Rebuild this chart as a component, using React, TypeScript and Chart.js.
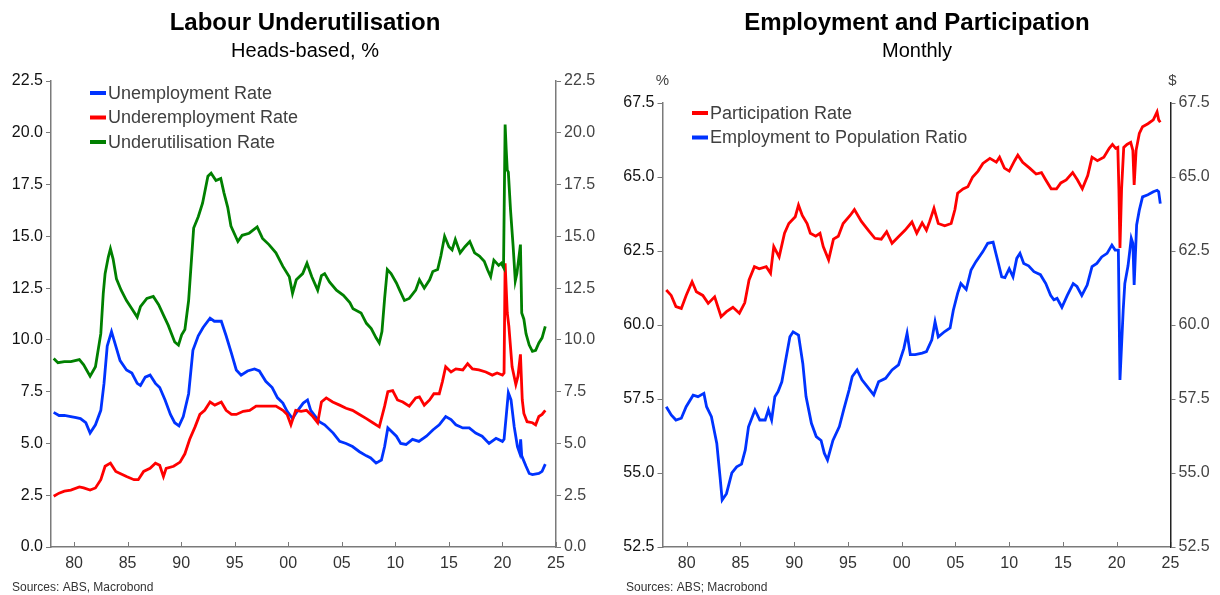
import React, { useEffect, useRef } from "react";
import { Chart, registerables } from "chart.js";

Chart.register(...registerables);

const FONT = "'Liberation Sans', Arial, Helvetica, sans-serif";

// ---------- Left chart: Labour Underutilisation ----------
const unempDates = [1978.1,1978.6,1979.1,1979.7,1980.2,1980.6,1981.1,1981.5,1982.0,1982.5,1982.8,1983.1,1983.5,1983.9,1984.3,1984.9,1985.4,1985.9,1986.2,1986.65,1987.1,1987.6,1988.0,1988.5,1989.0,1989.4,1989.8,1990.2,1990.7,1991.1,1991.6,1992.05,1992.7,1993.1,1993.75,1994.2,1994.7,1995.15,1995.6,1996.2,1996.85,1997.3,1997.9,1998.5,1999.0,1999.5,1999.9,2000.4,2000.9,2001.4,2001.8,2002.1,2002.9,2003.4,2004.2,2004.8,2005.4,2006.0,2006.65,2007.3,2007.7,2008.2,2008.7,2009.0,2009.3,2009.6,2010.1,2010.5,2011.0,2011.6,2012.2,2012.9,2013.5,2014.1,2014.7,2015.2,2015.65,2016.3,2016.9,2017.5,2018.1,2018.75,2019.4,2020.0,2020.15,2020.4,2020.55,2020.8,2021.1,2021.4,2021.6,2021.7,2021.8,2022.2,2022.5,2022.8,2023.4,2023.7,2024.0];
const unempValues = [6.5,6.35,6.35,6.3,6.25,6.2,6.0,5.5,5.9,6.6,7.9,9.7,10.4,9.7,9.0,8.55,8.4,7.9,7.8,8.2,8.3,7.9,7.7,7.1,6.4,6.0,5.85,6.3,7.4,9.5,10.2,10.6,11.05,10.9,10.9,10.2,9.35,8.55,8.3,8.5,8.6,8.5,8.0,7.7,7.2,6.95,6.55,6.2,6.6,6.95,7.1,6.6,6.05,5.9,5.5,5.1,5.0,4.85,4.6,4.4,4.3,4.05,4.2,4.85,5.75,5.6,5.35,5.0,4.95,5.2,5.1,5.35,5.65,5.9,6.3,6.15,5.9,5.75,5.75,5.5,5.35,5.0,5.25,5.1,5.2,6.6,7.45,7.1,5.8,4.85,4.55,5.2,4.4,3.9,3.55,3.5,3.55,3.65,4.0];

const underempDates = [1978.1,1978.6,1979.1,1979.7,1980.5,1980.9,1981.5,1982.0,1982.5,1982.9,1983.4,1983.9,1984.3,1984.9,1985.6,1986.0,1986.5,1987.1,1987.6,1988.0,1988.35,1988.6,1989.3,1989.9,1990.35,1990.8,1991.3,1991.75,1992.2,1992.7,1993.15,1993.75,1994.2,1994.7,1995.15,1995.8,1996.4,1997.0,1997.6,1998.25,1998.85,1999.5,1999.9,2000.25,2000.7,2001.2,2001.7,2002.3,2002.75,2003.1,2003.55,2004.15,2004.8,2005.4,2006.0,2006.65,2007.3,2007.9,2008.5,2009.0,2009.3,2009.75,2010.2,2010.7,2011.3,2011.9,2012.25,2012.7,2013.2,2013.6,2014.1,2014.4,2014.7,2015.2,2015.65,2016.3,2016.75,2017.2,2017.8,2018.45,2019.05,2019.5,2020.0,2020.15,2020.25,2020.45,2020.6,2020.9,2021.25,2021.45,2021.68,2021.85,2022.0,2022.3,2022.8,2023.1,2023.4,2023.7,2024.0];
const underempValues = [2.45,2.6,2.7,2.75,2.9,2.85,2.75,2.85,3.25,3.9,4.05,3.65,3.55,3.4,3.25,3.25,3.65,3.8,4.05,3.95,3.4,3.8,3.9,4.1,4.5,5.2,5.8,6.4,6.6,7.0,6.85,7.0,6.6,6.4,6.4,6.55,6.6,6.8,6.8,6.8,6.8,6.6,6.4,5.9,6.6,6.55,6.6,6.3,6.0,7.0,7.2,7.0,6.85,6.7,6.6,6.4,6.2,6.0,5.8,6.8,7.5,7.55,7.1,7.0,6.8,7.2,7.25,6.85,7.1,7.4,7.4,8.0,8.7,8.45,8.6,8.55,8.85,8.6,8.55,8.45,8.3,8.4,8.3,8.4,13.7,11.3,10.65,8.7,7.85,8.25,9.3,7.1,6.45,6.05,6.0,5.9,6.3,6.4,6.6];

const underutilDates = [1978.1,1978.5,1979.1,1979.7,1980.5,1980.9,1981.5,1982.0,1982.5,1982.73,1982.9,1983.2,1983.4,1983.65,1983.96,1984.4,1984.9,1985.4,1985.9,1986.2,1986.8,1987.4,1987.9,1988.35,1988.8,1989.1,1989.4,1989.75,1990.05,1990.35,1990.7,1991.17,1991.6,1992.0,1992.5,1992.8,1993.25,1993.7,1994.0,1994.35,1994.65,1995.3,1995.7,1996.35,1997.1,1997.6,1998.2,1998.85,1999.5,2000.1,2000.4,2000.75,2001.35,2001.75,2002.2,2002.75,2003.1,2003.4,2003.85,2004.5,2005.15,2005.75,2006.05,2006.8,2007.3,2007.75,2008.2,2008.5,2008.75,2009.0,2009.25,2009.6,2010.1,2010.4,2010.85,2011.3,2011.9,2012.25,2012.7,2013.2,2013.5,2013.95,2014.25,2014.6,2015.0,2015.3,2015.6,2016.05,2016.5,2016.95,2017.4,2017.85,2018.3,2018.6,2018.9,2019.2,2019.65,2019.9,2020.1,2020.25,2020.35,2020.45,2020.55,2020.75,2021.0,2021.2,2021.35,2021.68,2021.8,2022.0,2022.2,2022.5,2022.8,2023.1,2023.4,2023.7,2024.0];
const underutilValues = [9.1,8.9,8.95,8.95,9.05,8.8,8.25,8.7,10.3,12.25,13.2,14.0,14.4,13.9,12.95,12.4,11.9,11.5,11.1,11.6,12.0,12.1,11.7,11.2,10.7,10.3,9.9,9.75,10.25,10.5,11.9,15.4,15.95,16.6,17.9,18.05,17.7,17.8,17.1,16.4,15.5,14.75,15.05,15.15,15.45,14.9,14.6,14.2,13.55,13.05,12.25,12.9,13.2,13.7,13.05,12.4,13.1,13.2,12.8,12.4,12.15,11.8,11.5,11.3,10.8,10.55,10.1,9.85,10.4,12.0,13.4,13.2,12.75,12.4,11.9,12.0,12.4,12.9,12.5,12.9,13.3,13.4,14.05,15.0,14.5,14.35,14.85,14.2,14.5,14.75,14.2,14.05,13.8,13.4,13.05,13.85,13.6,13.7,13.5,20.4,19.2,18.2,18.1,16.3,14.5,12.85,13.2,14.6,11.3,11.0,10.3,9.75,9.45,9.5,9.85,10.1,10.65];

const leftYTicks = [0, 2.5, 5, 7.5, 10, 12.5, 15, 17.5, 20, 22.5];

// ---------- Right chart: Employment and Participation ----------
const partDates = [1978.1,1978.56,1979.0,1979.5,1979.95,1980.5,1980.9,1981.5,1982.0,1982.6,1983.2,1983.7,1984.3,1984.9,1985.4,1985.8,1986.3,1986.75,1987.4,1987.8,1988.1,1988.6,1989.1,1989.5,1990.1,1990.4,1990.75,1991.2,1991.5,1992.0,1992.4,1992.7,1993.2,1993.65,1994.1,1994.55,1995.2,1995.6,1996.25,1996.9,1997.5,1998.1,1998.6,1999.1,1999.7,2000.3,2000.95,2001.4,2001.9,2002.3,2002.6,2003.0,2003.4,2004.0,2004.6,2004.95,2005.2,2005.7,2006.15,2006.6,2007.1,2007.55,2008.2,2008.8,2009.1,2009.55,2010.0,2010.5,2010.8,2011.25,2011.9,2012.5,2013.0,2013.4,2013.9,2014.4,2014.8,2015.3,2015.9,2016.35,2016.8,2017.3,2017.7,2018.2,2018.8,2019.3,2019.6,2019.9,2020.1,2020.2,2020.3,2020.45,2020.65,2020.95,2021.3,2021.5,2021.62,2021.8,2022.1,2022.4,2022.9,2023.4,2023.75,2023.9,2024.05];
const partValues = [61.18,61.0,60.62,60.56,61.0,61.46,61.12,61.0,60.73,60.95,60.28,60.45,60.6,60.4,60.75,61.52,61.97,61.9,61.97,61.75,62.65,62.3,63.1,63.43,63.66,64.05,63.7,63.43,63.1,63.0,63.1,62.65,62.2,62.9,63.0,63.43,63.7,63.9,63.5,63.2,62.93,62.9,63.15,62.76,62.98,63.2,63.48,63.1,63.45,63.2,63.5,63.94,63.43,63.35,63.43,63.9,64.45,64.6,64.67,65.0,65.2,65.46,65.63,65.5,65.67,65.3,65.2,65.55,65.74,65.5,65.3,65.1,65.15,64.9,64.6,64.6,64.8,64.9,65.15,64.9,64.6,65.05,65.67,65.55,65.67,65.97,66.1,65.97,66.0,64.6,62.6,64.6,66.0,66.1,66.17,65.9,64.73,65.9,66.47,66.7,66.8,66.93,67.2,66.93,66.85];

const eprDates = [1978.1,1978.56,1979.0,1979.5,1979.95,1980.6,1981.05,1981.6,1981.85,1982.3,1982.8,1983.1,1983.3,1983.7,1984.2,1984.65,1985.1,1985.45,1985.75,1986.35,1986.8,1987.3,1987.6,1987.9,1988.2,1988.5,1988.85,1989.15,1989.6,1989.9,1990.4,1990.8,1991.1,1991.6,1992.05,1992.5,1992.8,1993.1,1993.6,1994.2,1994.6,1995.1,1995.4,1995.85,1996.3,1996.8,1997.4,1997.85,1998.5,1999.1,1999.7,2000.2,2000.5,2000.8,2001.25,2001.9,2002.3,2002.8,2003.1,2003.4,2004.0,2004.5,2004.8,2005.2,2005.5,2006.0,2006.45,2006.9,2007.55,2008.0,2008.5,2008.8,2009.3,2009.6,2010.0,2010.35,2010.7,2011.0,2011.35,2011.8,2012.3,2012.9,2013.4,2013.85,2014.15,2014.45,2014.9,2015.4,2015.95,2016.3,2016.75,2017.25,2017.7,2018.15,2018.6,2019.1,2019.55,2019.85,2020.15,2020.3,2020.6,2020.75,2021.05,2021.35,2021.5,2021.62,2021.85,2022.1,2022.4,2022.9,2023.4,2023.75,2023.9,2024.05];
const eprValues = [57.24,56.96,56.79,56.85,57.24,57.63,57.58,57.69,57.24,56.9,56.0,54.88,54.09,54.3,55.0,55.21,55.3,55.78,56.56,57.13,56.79,56.79,57.13,56.79,57.58,57.75,58.08,58.7,59.6,59.77,59.66,58.7,57.58,56.68,56.23,56.1,55.67,55.44,56.1,56.57,57.13,57.8,58.26,58.48,58.15,57.92,57.64,58.08,58.2,58.48,58.65,59.21,59.72,59.0,59.0,59.05,59.1,59.5,60.11,59.6,59.78,59.9,60.5,61.07,61.4,61.2,61.86,62.14,62.48,62.76,62.8,62.36,61.63,61.6,61.9,61.63,62.25,62.42,62.08,62.0,61.8,61.7,61.4,61.0,60.85,60.9,60.6,61.0,61.4,61.3,61.0,61.35,61.97,62.08,62.3,62.42,62.7,62.53,62.53,58.14,60.5,61.4,62.0,62.93,62.76,61.35,63.38,63.88,64.33,64.4,64.5,64.55,64.5,64.1];

const rightYTicks = [52.5, 55, 57.5, 60, 62.5, 65, 67.5];

const yearTicks = [1980, 1985, 1990, 1995, 2000, 2005, 2010, 2015, 2020, 2025];

const BLUE = "#0033ff";
const RED = "#ff0000";
const GREEN = "#008000";
const AXIS = "#7a7a7a";

function pts(dates: number[], values: number[]) {
  return dates.map((d, i) => ({ x: d, y: values[i] }));
}

const decorPlugin = {
  id: "decor",
  afterDraw(chart: any, _args: any, opts: any) {
    const ctx = chart.ctx;
    const area = chart.chartArea;
    ctx.save();
    // titles
    ctx.textAlign = "center";
    ctx.textBaseline = "middle";
    ctx.fillStyle = "#000";
    ctx.font = `bold 24px ${FONT}`;
    ctx.fillText(opts.title, opts.titleX, 23);
    ctx.font = `20px ${FONT}`;
    ctx.fillText(opts.subtitle, opts.titleX, 51);
    // sources
    ctx.textAlign = "left";
    ctx.font = `12px ${FONT}`;
    ctx.fillStyle = "#333";
    ctx.fillText(opts.source, opts.sourceX, 588);
    // legend
    ctx.font = `18px ${FONT}`;
    opts.legend.forEach((item: any, i: number) => {
      const y = opts.legendY + i * opts.legendGap;
      ctx.fillStyle = item.color;
      ctx.fillRect(opts.legendX, y - 2, 16, 4);
      ctx.fillStyle = "#404040";
      ctx.fillText(item.label, opts.legendX + 18, y + 1);
    });
    // units
    if (opts.leftUnit) {
      ctx.textAlign = "center";
      ctx.font = `15px ${FONT}`;
      ctx.fillStyle = "#444";
      ctx.fillText(opts.leftUnit, area.left, 81);
      ctx.fillText(opts.rightUnit, area.right + 2, 81);
    }
    // inward x ticks
    const xs = chart.scales.x;
    ctx.strokeStyle = AXIS;
    ctx.lineWidth = 1;
    yearTicks.forEach((v) => {
      const px = Math.round(xs.getPixelForValue(v)) + 0.5;
      ctx.beginPath();
      ctx.moveTo(px, area.bottom);
      ctx.lineTo(px, area.bottom - 5);
      ctx.stroke();
    });
    ctx.restore();
  },
};

function yAxis(position: string, ticks: number[], leftW: number, color: string, borderColor: string) {
  return {
    type: "linear",
    position,
    min: ticks[0],
    max: ticks[ticks.length - 1],
    afterBuildTicks: (s: any) => {
      s.ticks = ticks.map((v) => ({ value: v }));
    },
    afterFit: (s: any) => {
      s.width = leftW;
    },
    grid: { display: true, drawOnChartArea: false, drawTicks: true, tickLength: 5, color: AXIS },
    border: { display: true, color: borderColor, width: 1.5 },
    ticks: {
      padding: 3,
      color,
      font: { family: FONT, size: 16 },
      callback: (v: any) => Number(v).toFixed(1),
    },
  };
}

function makeConfig(p: any) {
  return {
    type: "line",
    data: {
      datasets: p.series.map((s: any) => ({
        label: s.label,
        data: pts(s.dates, s.values),
        borderColor: s.color,
        backgroundColor: s.color,
        borderWidth: 2.8,
        pointRadius: 0,
        tension: 0,
        fill: false,
        order: s.order,
        yAxisID: "y",
      })),
    },
    options: {
      responsive: false,
      animation: false,
      devicePixelRatio: 1,
      parsing: true,
      layout: { padding: { top: p.top, left: 0, right: 0, bottom: 0 } },
      plugins: {
        legend: { display: false },
        tooltip: { enabled: false },
        title: { display: false },
        decor: p.decor,
      },
      scales: {
        x: {
          type: "linear",
          min: p.xMin,
          max: 2025,
          afterBuildTicks: (s: any) => {
            s.ticks = yearTicks.map((v) => ({ value: v }));
          },
          afterFit: (s: any) => {
            s.height = 48;
          },
          grid: { display: false, drawTicks: false },
          border: { display: true, color: AXIS, width: 1.5 },
          ticks: {
            padding: 7,
            maxRotation: 0,
            autoSkip: false,
            color: "#333",
            font: { family: FONT, size: 16 },
            callback: (v: any) => String(Number(v) % 100).padStart(2, "0"),
          },
        },
        y: yAxis("left", p.yTicks, p.leftW, "#111", AXIS),
        y1: yAxis("right", p.yTicks, p.rightW, "#444", p.rightBorder),
      },
    },
    plugins: [decorPlugin],
  };
}

function ChartBox({ cfg }: { cfg: any }) {
  const ref = useRef<HTMLCanvasElement | null>(null);
  useEffect(() => {
    if (!ref.current) return;
    const chart = new Chart(ref.current, cfg);
    return () => chart.destroy();
  }, [cfg]);
  return <canvas ref={ref} width={610} height={595} style={{ display: "block", width: 610, height: 595 }} />;
}

const leftCfg = makeConfig({
  top: 81,
  xMin: 1977.85,
  leftW: 51,
  rightW: 54,
  rightBorder: AXIS,
  yTicks: leftYTicks,
  series: [
    { label: "Unemployment Rate", dates: unempDates, values: unempValues, color: BLUE, order: 2 },
    { label: "Underemployment Rate", dates: underempDates, values: underempValues, color: RED, order: 1 },
    { label: "Underutilisation Rate", dates: underutilDates, values: underutilValues, color: GREEN, order: 0 },
  ],
  decor: {
    title: "Labour Underutilisation",
    subtitle: "Heads-based, %",
    titleX: 305,
    source: "Sources: ABS, Macrobond",
    sourceX: 12,
    legendX: 90,
    legendY: 93,
    legendGap: 24.5,
    legend: [
      { label: "Unemployment Rate", color: BLUE },
      { label: "Underemployment Rate", color: RED },
      { label: "Underutilisation Rate", color: GREEN },
    ],
  },
});

const rightCfg = makeConfig({
  top: 103,
  xMin: 1977.75,
  leftW: 52.5,
  rightW: 49.5,
  rightBorder: "#222",
  yTicks: rightYTicks,
  series: [
    { label: "Participation Rate", dates: partDates, values: partValues, color: RED, order: 0 },
    { label: "Employment to Population Ratio", dates: eprDates, values: eprValues, color: BLUE, order: 1 },
  ],
  decor: {
    title: "Employment and Participation",
    subtitle: "Monthly",
    titleX: 307,
    source: "Sources: ABS; Macrobond",
    sourceX: 16,
    legendX: 82,
    legendY: 113,
    legendGap: 24.5,
    leftUnit: "%",
    rightUnit: "$",
    legend: [
      { label: "Participation Rate", color: RED },
      { label: "Employment to Population Ratio", color: BLUE },
    ],
  },
});

export default function App() {
  return (
    <div
      style={{
        position: "absolute",
        left: 0,
        top: 0,
        width: 1220,
        height: 595,
        display: "flex",
        background: "#fff",
      }}
    >
      <ChartBox cfg={leftCfg} />
      <ChartBox cfg={rightCfg} />
    </div>
  );
}
